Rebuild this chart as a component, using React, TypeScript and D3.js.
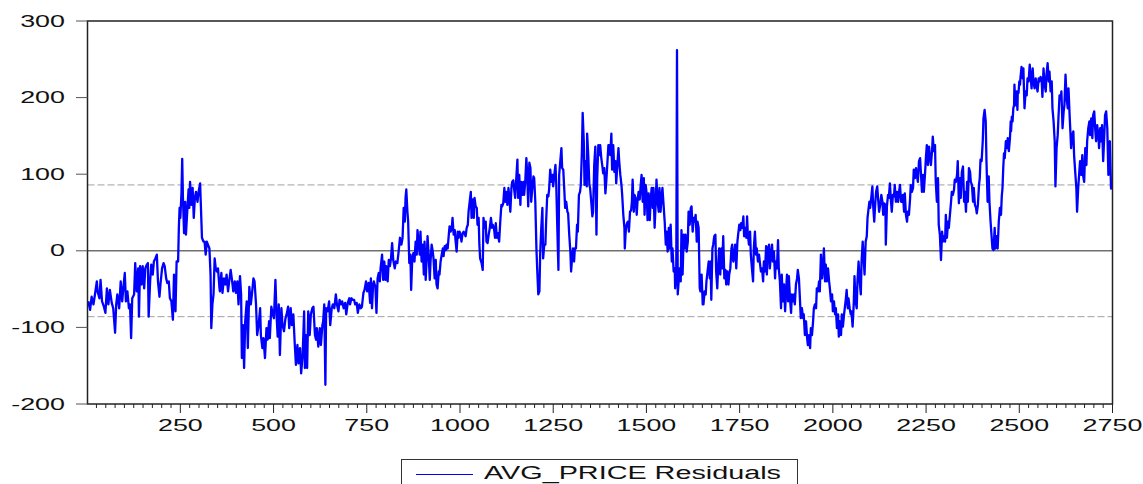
import React from 'react';
import * as d3 from 'd3';

const residObs1to355: [number, number][] = [
  [3,-66],[8,-77],[12,-60],[17,-70],[21,-57],[26,-40],[28,-53],[33,-62],[36,-38],[40,-66],
  [45,-73],[49,-81],[53,-49],[57,-70],[61,-51],[66,-68],[70,-75],[75,-107],[78,-70],[81,-57],
  [86,-75],[90,-40],[94,-66],[97,-49],[101,-29],[104,-66],[108,-53],[112,-75],[115,-70],[118,-114],
  [121,-62],[126,-57],[129,-16],[133,-53],[137,-23],[139,-86],[142,-20],[146,-44],[149,-20],[153,-49],
  [156,-23],[160,-18],[163,-16],[165,-86],[169,-40],[172,-18],[176,-31],[179,-14],[183,-10],[187,-5],
  [190,-40],[194,-60],[197,-42],[201,-23],[205,-16],[208,-20],[212,-36],[215,-42],[219,-40],[222,-62],
  [226,-66],[230,-90],[233,-31],[237,-79],[240,-14],[244,-14],[246,30],[248,56],[250,43],[253,75],
  [255,120],[257,69],[260,23],[263,64],[265,21],[268,47],[272,80],[274,56],[276,90],[280,60],
  [283,82],[286,43],[289,69],[292,77],[296,64],[299,77],[303,88],[305,60],[308,17],[312,12],
  [315,12],[318,-5],[321,12],[324,8],[328,3],[331,-31],[333,-101],[336,-70],[339,-57],[342,-10],
  [345,-23],[348,-27],[351,-23],[355,-49],
];

const residObs356to703: [number, number][] = [
  [356,-53],[360,-29],[363,-55],[367,-36],[371,-44],[374,-31],[378,-53],[381,-40],[385,-25],[389,-40],
  [392,-53],[396,-40],[399,-55],[403,-40],[406,-70],[410,-33],[413,-57],[415,-140],[418,-97],[421,-153],
  [424,-92],[428,-66],[431,-127],[435,-47],[439,-70],[442,-57],[446,-36],[449,-40],[453,-70],[456,-110],
  [460,-97],[464,-75],[466,-110],[470,-127],[473,-114],[477,-140],[481,-101],[484,-116],[488,-92],[490,-114],
  [494,-73],[498,-83],[501,-88],[505,-38],[508,-83],[511,-112],[514,-70],[517,-136],[521,-75],[524,-97],
  [528,-105],[532,-88],[535,-83],[539,-73],[542,-101],[546,-75],[549,-97],[553,-83],[557,-123],[560,-149],
  [564,-123],[567,-147],[571,-127],[574,-160],[578,-136],[582,-79],[584,-153],[587,-110],[590,-153],[593,-79],
  [597,-110],[600,-83],[604,-75],[607,-73],[611,-110],[614,-116],[616,-101],[620,-125],[624,-101],[627,-123],
  [631,-97],[633,-92],[636,-70],[639,-175],[641,-75],[645,-79],[649,-66],[652,-97],[656,-75],[659,-70],
  [663,-75],[667,-57],[670,-70],[674,-79],[677,-64],[681,-70],[684,-66],[688,-75],[692,-68],[695,-83],
  [699,-68],[703,-62],
];

const residObs705to1050: [number, number][] = [
  [705,-70],[709,-62],[712,-64],[716,-64],[719,-70],[723,-68],[726,-81],[730,-70],[734,-75],[737,-73],
  [741,-55],[744,-51],[748,-40],[751,-53],[755,-42],[759,-68],[761,-36],[764,-75],[767,-44],[769,-40],
  [773,-47],[776,-81],[779,-36],[782,-29],[785,-40],[787,-23],[791,-5],[794,-38],[797,-14],[800,-38],
  [802,-20],[806,-40],[809,-12],[812,-20],[815,-10],[818,10],[821,-12],[825,-23],[828,-14],[832,-16],
  [835,-3],[839,17],[843,8],[846,17],[849,56],[852,38],[854,69],[856,80],[859,51],[861,38],
  [864,-16],[867,-5],[869,-51],[872,-10],[875,-3],[878,-14],[881,12],[884,-5],[886,27],[889,12],
  [892,-5],[894,25],[897,-14],[900,8],[903,-31],[905,12],[908,-38],[911,-7],[913,19],[916,-5],
  [919,-38],[921,-14],[924,8],[927,-1],[929,-10],[932,-36],[935,-12],[937,-44],[940,-49],[943,-27],
  [945,-31],[948,-14],[951,-5],[954,3],[956,-7],[959,6],[962,1],[964,8],[967,3],[970,21],
  [972,32],[975,25],[978,30],[980,43],[983,21],[986,27],[988,14],[991,-1],[994,25],[996,17],
  [999,25],[1002,19],[1004,12],[1007,23],[1010,25],[1012,23],[1015,19],[1018,30],[1021,34],[1023,51],
  [1026,64],[1029,77],[1031,43],[1034,67],[1037,43],[1039,69],[1042,58],[1045,56],[1047,34],[1050,43],
];

const residObs1052to1398: [number, number][] = [
  [1052,8],[1054,-10],[1058,-16],[1061,-25],[1063,43],[1066,30],[1069,38],[1071,12],[1074,10],[1077,21],
  [1080,30],[1083,43],[1086,30],[1088,34],[1091,30],[1094,17],[1096,36],[1099,17],[1102,23],[1105,12],
  [1108,38],[1111,60],[1113,58],[1116,62],[1119,82],[1121,64],[1124,77],[1127,60],[1130,82],[1132,71],
  [1135,51],[1138,82],[1140,90],[1143,92],[1146,77],[1148,69],[1151,95],[1154,119],[1156,69],[1159,99],
  [1162,60],[1164,90],[1167,73],[1170,90],[1172,73],[1175,90],[1178,121],[1180,103],[1183,58],[1186,115],
  [1189,108],[1191,64],[1194,82],[1197,97],[1199,95],[1202,64],[1205,3],[1207,-23],[1210,-57],[1213,-53],
  [1215,-5],[1218,30],[1221,56],[1223,-10],[1226,8],[1229,8],[1231,38],[1234,73],[1237,71],[1239,80],
  [1242,106],[1245,90],[1248,99],[1250,84],[1253,99],[1256,112],[1258,90],[1261,30],[1264,-25],[1266,99],
  [1269,117],[1272,134],[1274,108],[1277,106],[1280,77],[1282,56],[1285,64],[1288,51],[1290,49],[1293,21],
  [1296,-1],[1298,-27],[1300,-14],[1303,3],[1306,-14],[1308,3],[1311,3],[1314,34],[1316,25],[1319,73],
  [1322,77],[1324,86],[1327,130],[1329,180],[1332,143],[1334,86],[1337,117],[1340,84],[1341,153],[1344,125],
  [1347,86],[1349,82],[1352,64],[1355,45],[1357,51],[1360,112],[1363,136],[1366,21],[1368,95],[1371,138],
  [1374,125],[1376,138],[1379,121],[1382,110],[1384,101],[1387,108],[1390,75],[1392,88],[1395,112],[1398,138],
];

const residObs1400to1746: [number, number][] = [
  [1400,138],[1403,125],[1406,153],[1408,106],[1411,138],[1414,103],[1417,117],[1419,88],[1422,112],[1425,134],
  [1427,117],[1430,99],[1433,86],[1435,73],[1438,47],[1441,30],[1442,3],[1445,30],[1448,36],[1450,38],
  [1453,25],[1456,51],[1459,53],[1461,64],[1463,93],[1466,51],[1468,73],[1471,69],[1474,47],[1476,64],
  [1479,77],[1482,67],[1484,82],[1487,99],[1490,64],[1493,95],[1495,47],[1498,86],[1501,73],[1503,40],
  [1506,75],[1509,40],[1511,64],[1514,82],[1517,56],[1519,82],[1522,30],[1525,64],[1527,93],[1530,64],
  [1533,51],[1535,82],[1538,51],[1541,73],[1543,82],[1546,60],[1549,38],[1552,8],[1554,25],[1557,-1],
  [1560,30],[1562,3],[1565,34],[1568,-14],[1570,3],[1573,-27],[1576,-23],[1577,-49],[1580,-31],[1582,262],
  [1584,-57],[1589,-23],[1592,-40],[1594,27],[1597,-31],[1600,21],[1602,3],[1605,21],[1608,-1],[1611,12],
  [1613,51],[1616,34],[1619,56],[1621,58],[1624,25],[1627,43],[1629,38],[1632,47],[1635,12],[1637,38],
  [1640,30],[1643,-49],[1645,-53],[1648,-31],[1651,-70],[1653,-70],[1656,-53],[1659,-57],[1661,-40],[1664,-27],
  [1667,-14],[1670,-36],[1672,-14],[1674,-64],[1677,3],[1679,8],[1682,19],[1685,21],[1687,-27],[1690,-49],
  [1693,-14],[1695,3],[1698,-31],[1701,3],[1703,-23],[1706,19],[1709,-36],[1712,-25],[1714,-44],[1717,-27],
  [1720,-44],[1722,-31],[1725,-23],[1728,3],[1730,8],[1733,-14],[1736,-5],[1738,8],[1741,-23],[1744,12],
  [1746,21],
];

const residObs1749to2096: [number, number][] = [
  [1749,34],[1752,27],[1754,36],[1757,30],[1760,45],[1762,19],[1765,30],[1768,17],[1770,45],[1772,21],
  [1775,8],[1778,25],[1780,-5],[1783,-23],[1786,-40],[1788,3],[1791,25],[1794,-5],[1796,3],[1799,-14],
  [1802,-5],[1804,-14],[1807,-27],[1810,-23],[1813,-40],[1815,-14],[1818,-27],[1821,6],[1823,-31],[1826,3],
  [1829,8],[1831,-23],[1834,-5],[1837,8],[1839,-14],[1842,-1],[1845,-36],[1847,-14],[1850,-23],[1853,14],
  [1855,-23],[1858,-40],[1861,-75],[1863,-31],[1866,-66],[1869,-44],[1872,-79],[1874,-57],[1877,-31],[1880,-66],
  [1882,-33],[1885,-62],[1888,-81],[1890,-57],[1893,-66],[1896,-57],[1898,-70],[1901,-44],[1904,-36],[1906,-25],
  [1909,-36],[1912,-66],[1914,-88],[1917,-75],[1920,-88],[1922,-83],[1925,-110],[1928,-92],[1931,-114],[1933,-123],
  [1936,-110],[1939,-127],[1941,-101],[1944,-110],[1947,-92],[1949,-75],[1952,-70],[1955,-75],[1957,-49],[1960,-53],
  [1963,-40],[1965,-53],[1968,-5],[1971,-36],[1973,-27],[1976,3],[1979,-40],[1981,-18],[1984,-40],[1987,-23],
  [1990,-40],[1992,-49],[1995,-66],[1998,-57],[2000,-79],[2003,-66],[2006,-83],[2008,-75],[2011,-101],[2014,-83],
  [2016,-112],[2019,-92],[2022,-110],[2024,-83],[2027,-99],[2030,-83],[2032,-75],[2035,-62],[2037,-51],[2040,-75],
  [2042,-62],[2045,-75],[2048,-83],[2050,-79],[2053,-99],[2056,-70],[2058,-33],[2061,-66],[2064,-75],[2066,-40],
  [2069,-14],[2072,-40],[2075,-57],[2077,-14],[2080,12],[2082,-5],[2085,-31],[2088,12],[2091,19],[2093,43],
  [2096,56],
];

const residObs2098to2445: [number, number][] = [
  [2098,64],[2100,56],[2103,69],[2106,84],[2108,60],[2111,38],[2114,64],[2116,77],[2119,84],[2122,64],
  [2124,51],[2127,60],[2130,73],[2133,64],[2135,47],[2138,62],[2141,60],[2142,8],[2145,58],[2148,73],
  [2150,69],[2153,88],[2156,64],[2158,51],[2161,73],[2164,71],[2166,86],[2169,64],[2172,77],[2175,64],
  [2177,75],[2180,86],[2183,64],[2185,64],[2188,73],[2191,51],[2193,75],[2196,47],[2199,38],[2201,51],
  [2204,47],[2207,67],[2209,86],[2212,77],[2215,82],[2217,106],[2220,95],[2223,108],[2225,99],[2228,90],
  [2231,117],[2234,121],[2236,103],[2239,77],[2242,99],[2244,77],[2247,99],[2250,125],[2252,138],[2255,112],
  [2258,136],[2260,125],[2263,112],[2266,130],[2268,149],[2271,130],[2274,138],[2276,90],[2279,64],[2282,95],
  [2284,34],[2287,21],[2290,-12],[2293,25],[2295,12],[2298,19],[2301,12],[2303,47],[2306,17],[2309,38],
  [2311,30],[2314,47],[2317,64],[2319,77],[2322,73],[2325,80],[2327,93],[2330,90],[2333,99],[2335,117],
  [2338,62],[2341,95],[2343,69],[2346,103],[2349,110],[2352,64],[2354,77],[2357,51],[2360,90],[2362,64],
  [2365,108],[2368,103],[2370,90],[2373,86],[2376,64],[2378,82],[2381,60],[2384,56],[2386,49],[2389,60],
  [2392,86],[2394,95],[2396,119],[2399,117],[2402,143],[2404,173],[2407,184],[2410,169],[2412,117],[2415,64],
  [2418,97],[2420,64],[2423,38],[2426,17],[2428,3],[2431,1],[2434,30],[2436,3],[2439,19],[2442,3],
  [2445,38],
];

const residObs2448to2748: [number, number][] = [
  [2448,56],[2451,47],[2453,71],[2455,82],[2457,108],[2459,127],[2461,121],[2464,143],[2467,134],[2469,147],
  [2472,130],[2475,147],[2477,169],[2478,156],[2480,175],[2482,169],[2484,186],[2486,190],[2487,217],[2489,195],
  [2491,190],[2493,208],[2495,184],[2496,208],[2498,206],[2500,221],[2502,217],[2503,225],[2506,240],[2509,225],
  [2511,238],[2514,186],[2517,208],[2520,203],[2522,225],[2525,221],[2528,243],[2530,230],[2533,212],[2536,238],
  [2538,221],[2541,212],[2544,225],[2546,217],[2549,208],[2552,225],[2554,221],[2557,227],[2560,223],[2562,201],
  [2565,238],[2568,217],[2571,208],[2573,230],[2576,245],[2579,221],[2581,234],[2584,208],[2587,221],[2589,186],
  [2592,169],[2595,143],[2597,84],[2600,134],[2603,151],[2605,173],[2608,203],[2611,199],[2613,208],[2616,160],
  [2619,182],[2621,190],[2624,230],[2627,199],[2630,186],[2632,212],[2635,177],[2637,156],[2639,134],[2642,151],
  [2645,156],[2647,125],[2650,103],[2653,82],[2655,51],[2658,82],[2661,103],[2663,117],[2666,99],[2669,125],
  [2671,99],[2674,90],[2677,134],[2680,112],[2682,143],[2685,160],[2688,169],[2690,151],[2693,173],[2696,147],
  [2698,177],[2701,182],[2704,156],[2706,143],[2709,164],[2712,151],[2714,134],[2717,160],[2720,143],[2722,164],
  [2725,117],[2728,151],[2730,177],[2733,182],[2736,160],[2739,99],[2740,138],[2743,143],[2746,82],[2748,80],
];

const yTickValues = [-200, -100, 0, 100, 200, 300];
const xMajorTicks = [250, 500, 750, 1000, 1250, 1500, 1750, 2000, 2250, 2500, 2750];
const seBand = 86;
const seriesLabel = 'AVG_PRICE Residuals';

const FONT = '"Liberation Sans", Arial, Helvetica, sans-serif';

export default function App() {
  const W = 1143;
  const H = 484;
  const left = 87.5;
  const right = 1112.5;
  const top = 21;
  const bottom = 404;

  const x = d3.scaleLinear().domain([1, 2750]).range([left, right]);
  const y = d3.scaleLinear().domain([-200, 300]).range([bottom, top]);

  const data: [number, number][] = [
    ...residObs1to355,
    ...residObs356to703,
    ...residObs705to1050,
    ...residObs1052to1398,
    ...residObs1400to1746,
    ...residObs1749to2096,
    ...residObs2098to2445,
    ...residObs2448to2748,
  ];

  const line = d3
    .line<[number, number]>()
    .x((d) => x(d[0]))
    .y((d) => y(d[1]));

  const minorTicks = d3.range(25, 2751, 25).filter((v) => v % 250 !== 0);

  return (
    <svg
      width={W}
      height={H}
      viewBox={`0 0 ${W} ${H}`}
      style={{ position: 'absolute', left: 0, top: 0, background: '#fff' }}
    >
      <rect x={0} y={0} width={W} height={H} fill="#fff" />
      {/* reference lines */}
      <line x1={left} x2={right} y1={y(0)} y2={y(0)} stroke="#707070" strokeWidth={1.4} />
      <line x1={left} x2={right} y1={y(seBand)} y2={y(seBand)} stroke="#a0a0a0" strokeWidth={1} strokeDasharray="7,3" />
      <line x1={left} x2={right} y1={y(-seBand)} y2={y(-seBand)} stroke="#a0a0a0" strokeWidth={1} strokeDasharray="7,3" />

      {/* series */}
      <path d={line(data) || ''} fill="none" stroke="#0000ff" strokeWidth={2.3} strokeLinejoin="round" />

      {/* frame */}
      <rect x={left} y={top} width={right - left} height={bottom - top} fill="none" stroke="#222" strokeWidth={1.5} />

      {/* y axis */}
      {yTickValues.map((v) => (
        <g key={`y${v}`}>
          <line x1={76} x2={left} y1={y(v)} y2={y(v)} stroke="#555" strokeWidth={1} />
          <text
            transform={`translate(65,${y(v) + 5.6}) scale(1.68,1)`}
            textAnchor="end"
            fontFamily={FONT}
            fontSize={16}
            fill="#111"
          >
            {v}
          </text>
        </g>
      ))}

      {/* x axis */}
      {minorTicks.map((v) => (
        <line key={`m${v}`} x1={x(v)} x2={x(v)} y1={bottom} y2={bottom + 4} stroke="#222" strokeWidth={1} />
      ))}
      {xMajorTicks.map((v) => (
        <g key={`x${v}`}>
          <line x1={x(v)} x2={x(v)} y1={bottom} y2={bottom + 9} stroke="#222" strokeWidth={1} />
          <text
            transform={`translate(${x(v)},431) scale(1.68,1)`}
            textAnchor="middle"
            fontFamily={FONT}
            fontSize={16}
            fill="#111"
          >
            {v}
          </text>
        </g>
      ))}

      {/* legend */}
      <rect x={401.5} y={459.5} width={396} height={40} fill="#fff" stroke="#333" strokeWidth={1} />
      <line x1={416} x2={473} y1={474.5} y2={474.5} stroke="#0000ff" strokeWidth={1} />
      <text
        transform={`translate(484,479.3) scale(1.6,1)`}
        fontFamily={FONT}
        fontSize={18}
        fill="#111"
      >
        {seriesLabel}
      </text>
    </svg>
  );
}
